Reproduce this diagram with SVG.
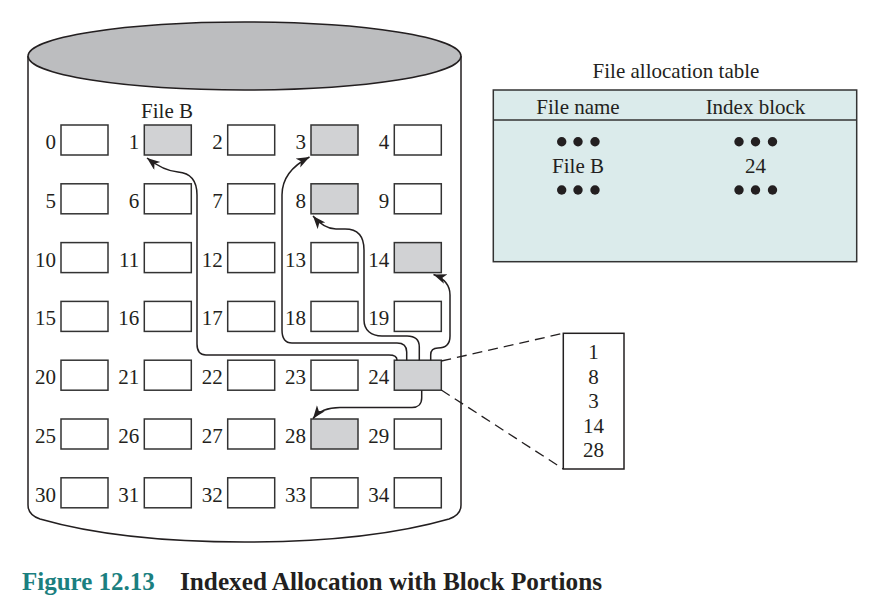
<svg xmlns="http://www.w3.org/2000/svg" width="883" height="599" viewBox="0 0 883 599">
<style>
text{font-family:"Liberation Serif","Times New Roman",serif;fill:#231f20;font-size:21px}
.lbl{text-anchor:end}
.mid{text-anchor:middle}
.blk{fill:#fff;stroke:#333;stroke-width:1.5}
.sh{fill:#d1d2d4}
.conn{fill:none;stroke:#231f20;stroke-width:1.5}
.dash{fill:none;stroke:#231f20;stroke-width:1.3;stroke-dasharray:10 6}
.dot{fill:#231f20}
.cap{font-weight:bold;font-size:25px}
</style>
<defs>
<marker id="ah" markerUnits="userSpaceOnUse" markerWidth="14" markerHeight="11" refX="13" refY="5" orient="auto">
<path d="M0,0 L13,5 L0,10 L3.5,5 z" fill="#231f20"/>
</marker>
</defs>

<g id="disk">
<path d="M28,56 V505 Q28,515 40,519 Q120,542 244.5,542 Q369,542 449,519 Q461,515 461,505 V56" fill="#fff" stroke="#231f20" stroke-width="1.5"/>
<ellipse cx="244.5" cy="56" rx="216.5" ry="34" fill="#bcbdbf" stroke="#231f20" stroke-width="1.5"/>
<text x="167" y="118" class="mid">File B</text>
</g>

<g id="blocks">
<g id="b0"><rect class="blk" x="61" y="125" width="47" height="30"/><text class="lbl" x="56" y="149">0</text></g>
<g id="b1"><rect class="blk sh" x="144.3" y="125" width="47" height="30"/><text class="lbl" x="139.3" y="149">1</text></g>
<g id="b2"><rect class="blk" x="227.7" y="125" width="47" height="30"/><text class="lbl" x="222.7" y="149">2</text></g>
<g id="b3"><rect class="blk sh" x="311" y="125" width="47" height="30"/><text class="lbl" x="306" y="149">3</text></g>
<g id="b4"><rect class="blk" x="394.3" y="125" width="47" height="30"/><text class="lbl" x="389.3" y="149">4</text></g>

<g id="b5"><rect class="blk" x="61" y="183.8" width="47" height="30"/><text class="lbl" x="56" y="207.8">5</text></g>
<g id="b6"><rect class="blk" x="144.3" y="183.8" width="47" height="30"/><text class="lbl" x="139.3" y="207.8">6</text></g>
<g id="b7"><rect class="blk" x="227.7" y="183.8" width="47" height="30"/><text class="lbl" x="222.7" y="207.8">7</text></g>
<g id="b8"><rect class="blk sh" x="311" y="183.8" width="47" height="30"/><text class="lbl" x="306" y="207.8">8</text></g>
<g id="b9"><rect class="blk" x="394.3" y="183.8" width="47" height="30"/><text class="lbl" x="389.3" y="207.8">9</text></g>

<g id="b10"><rect class="blk" x="61" y="242.6" width="47" height="30"/><text class="lbl" x="56" y="266.6">10</text></g>
<g id="b11"><rect class="blk" x="144.3" y="242.6" width="47" height="30"/><text class="lbl" x="139.3" y="266.6">11</text></g>
<g id="b12"><rect class="blk" x="227.7" y="242.6" width="47" height="30"/><text class="lbl" x="222.7" y="266.6">12</text></g>
<g id="b13"><rect class="blk" x="311" y="242.6" width="47" height="30"/><text class="lbl" x="306" y="266.6">13</text></g>
<g id="b14"><rect class="blk sh" x="394.3" y="242.6" width="47" height="30"/><text class="lbl" x="389.3" y="266.6">14</text></g>

<g id="b15"><rect class="blk" x="61" y="301.4" width="47" height="30"/><text class="lbl" x="56" y="325.4">15</text></g>
<g id="b16"><rect class="blk" x="144.3" y="301.4" width="47" height="30"/><text class="lbl" x="139.3" y="325.4">16</text></g>
<g id="b17"><rect class="blk" x="227.7" y="301.4" width="47" height="30"/><text class="lbl" x="222.7" y="325.4">17</text></g>
<g id="b18"><rect class="blk" x="311" y="301.4" width="47" height="30"/><text class="lbl" x="306" y="325.4">18</text></g>
<g id="b19"><rect class="blk" x="394.3" y="301.4" width="47" height="30"/><text class="lbl" x="389.3" y="325.4">19</text></g>

<g id="b20"><rect class="blk" x="61" y="360.2" width="47" height="30"/><text class="lbl" x="56" y="384.2">20</text></g>
<g id="b21"><rect class="blk" x="144.3" y="360.2" width="47" height="30"/><text class="lbl" x="139.3" y="384.2">21</text></g>
<g id="b22"><rect class="blk" x="227.7" y="360.2" width="47" height="30"/><text class="lbl" x="222.7" y="384.2">22</text></g>
<g id="b23"><rect class="blk" x="311" y="360.2" width="47" height="30"/><text class="lbl" x="306" y="384.2">23</text></g>
<g id="b24"><rect class="blk sh" x="394.3" y="360.2" width="47" height="30"/><text class="lbl" x="389.3" y="384.2">24</text></g>

<g id="b25"><rect class="blk" x="61" y="419" width="47" height="30"/><text class="lbl" x="56" y="443">25</text></g>
<g id="b26"><rect class="blk" x="144.3" y="419" width="47" height="30"/><text class="lbl" x="139.3" y="443">26</text></g>
<g id="b27"><rect class="blk" x="227.7" y="419" width="47" height="30"/><text class="lbl" x="222.7" y="443">27</text></g>
<g id="b28"><rect class="blk sh" x="311" y="419" width="47" height="30"/><text class="lbl" x="306" y="443">28</text></g>
<g id="b29"><rect class="blk" x="394.3" y="419" width="47" height="30"/><text class="lbl" x="389.3" y="443">29</text></g>

<g id="b30"><rect class="blk" x="61" y="477.8" width="47" height="30"/><text class="lbl" x="56" y="501.8">30</text></g>
<g id="b31"><rect class="blk" x="144.3" y="477.8" width="47" height="30"/><text class="lbl" x="139.3" y="501.8">31</text></g>
<g id="b32"><rect class="blk" x="227.7" y="477.8" width="47" height="30"/><text class="lbl" x="222.7" y="501.8">32</text></g>
<g id="b33"><rect class="blk" x="311" y="477.8" width="47" height="30"/><text class="lbl" x="306" y="501.8">33</text></g>
<g id="b34"><rect class="blk" x="394.3" y="477.8" width="47" height="30"/><text class="lbl" x="389.3" y="501.8">34</text></g>
</g>

<g id="connectors">
<path class="conn" marker-end="url(#ah)" d="M397,360.2 C397,357 394,355 389,355 L206,355 C200,355 197,351 197,344 L197,195 C197,180 190,173 178,172 C166,171 156,165 147,158"/>
<path class="conn" marker-end="url(#ah)" d="M406.7,360.2 L406.7,352 C406.7,346 403,343 397,343 L292,343 C285,343 282,338 282,330 L282,195 C282,178 292,166 309.5,157"/>
<path class="conn" marker-end="url(#ah)" d="M419.3,360.2 L419.3,347 C419.3,340 415,336 407,336 L382,336 C371,336 364,330 364,320 L364,250 C364,236 358,229 345,229 L336,229 C326,229 319,223 313,216"/>
<path class="conn" marker-end="url(#ah)" d="M430.7,360.2 L430.7,355 C430.7,350 433,348 438,348 C446,348 450,344 450,336 L450,295 C450,284 443,278 433.5,274.5"/>
<path class="conn" marker-end="url(#ah)" d="M421.7,390.2 L421.7,398 C421.7,404 418,407.5 412,407.5 L340,407.5 C327,407.5 318,412 313,418.5"/>
<path class="dash" d="M441.3,361 L563.3,333.3"/>
<path class="dash" d="M441.3,390 L563.3,469"/>
</g>

<g id="index-block">
<rect x="563.3" y="333.3" width="60.7" height="135.7" fill="#fff" stroke="#231f20" stroke-width="1.5"/>
<text class="mid" x="593.5" y="359">1</text>
<text class="mid" x="593.5" y="384">8</text>
<text class="mid" x="593.5" y="408">3</text>
<text class="mid" x="593.5" y="433">14</text>
<text class="mid" x="593.5" y="457">28</text>
</g>

<g id="fat">
<text class="mid" x="676" y="78">File allocation table</text>
<rect x="493.3" y="90" width="363.4" height="171.7" fill="#dbebeb" stroke="#333" stroke-width="1.5"/>
<line x1="493.3" y1="120" x2="856.7" y2="120" stroke="#333" stroke-width="1.5"/>
<text class="mid" x="578" y="114">File name</text>
<text class="mid" x="755.5" y="114">Index block</text>
<circle class="dot" cx="561.7" cy="141.7" r="4.7"/><circle class="dot" cx="578" cy="141.7" r="4.7"/><circle class="dot" cx="595" cy="141.7" r="4.7"/>
<circle class="dot" cx="739" cy="141.7" r="4.7"/><circle class="dot" cx="755.5" cy="141.7" r="4.7"/><circle class="dot" cx="772.5" cy="141.7" r="4.7"/>
<text class="mid" x="578" y="173">File B</text>
<text class="mid" x="755.5" y="173">24</text>
<circle class="dot" cx="561.7" cy="190" r="4.7"/><circle class="dot" cx="578" cy="190" r="4.7"/><circle class="dot" cx="595" cy="190" r="4.7"/>
<circle class="dot" cx="739" cy="190" r="4.7"/><circle class="dot" cx="755.5" cy="190" r="4.7"/><circle class="dot" cx="772.5" cy="190" r="4.7"/>
</g>

<g id="caption">
<text class="cap" x="22" y="590" style="fill:#1b7f80">Figure 12.13</text>
<text class="cap" x="180" y="590" textLength="422" lengthAdjust="spacingAndGlyphs">Indexed Allocation with Block Portions</text>
</g>
</svg>
